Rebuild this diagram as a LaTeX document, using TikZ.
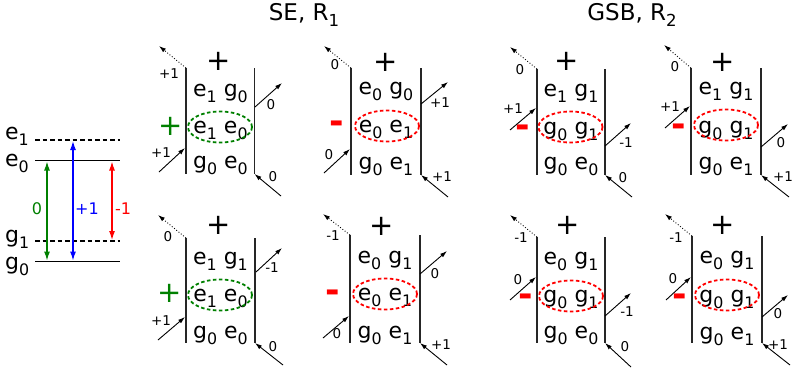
\documentclass[tikz,border=0pt]{standalone}
\usepackage{fontspec}
\usepackage{graphicx}
\setmainfont{DejaVu Sans}
\usetikzlibrary{arrows.meta,shapes.geometric}
\newcommand\sbs[1]{\raisebox{-0.28em}{\scalebox{0.72}{#1}}}
\definecolor{dgreen}{RGB}{0,128,0}
\tikzset{
  vline/.style={line width=1.2pt,black!85},
  arr/.style={line width=0.9pt,-{Latex[length=7pt,width=4.5pt]}},
  dotarr/.style={line width=0.9pt,dotted,-{Latex[length=7pt,width=4.5pt]}},
  row/.style={font=\fontsize{22}{24}\selectfont,inner sep=0pt,anchor=base},
  lab/.style={font=\fontsize{13.5}{15}\selectfont,inner sep=0pt},
  bigplus/.style={font=\fontsize{29}{30}\selectfont,inner sep=0pt},
  redminus/.style={font=\fontsize{35}{36}\selectfont\bfseries,text=red,inner sep=0pt,text height=4pt,text depth=0pt,yshift=-7pt},
  ell/.style={draw,line width=1.8pt,ellipse,minimum width=64pt,minimum height=31pt,inner sep=0pt,dash pattern=on 3.5pt off 2.5pt},
  lvl/.style={line width=1.5pt},
  lvld/.style={line width=1.5pt,dash pattern=on 4.5pt off 3pt},
  darr/.style={line width=1.2pt,{Latex[length=9pt,width=6pt]}-{Latex[length=9pt,width=6pt]}},
  lvllab/.style={font=\fontsize{22}{24}\selectfont,inner sep=0pt,anchor=base west},
  title/.style={font=\fontsize{23}{26}\selectfont,inner sep=0pt},
}
\begin{document}
\begin{tikzpicture}[x=1pt,y=-1pt]
\useasboundingbox (0,0) rectangle (793,370);
% ---------- titles
\node[title] (t1) at (304,15) {SE, R\sbs{1}};
\node[title] (t2) at (632,15) {GSB, R\sbs{2}};
% ---------- level diagram
\coordinate (e1a) at (35,140); \coordinate (e1b) at (120,140);
\coordinate (e0a) at (35,160.5); \coordinate (e0b) at (120,160.5);
\coordinate (g1a) at (35,241); \coordinate (g1b) at (120,241);
\coordinate (g0a) at (35,261.5); \coordinate (g0b) at (120,261.5);
\draw[lvld] (e1a) -- (e1b);
\draw[lvl] (e0a) -- (e0b);
\draw[lvld] (g1a) -- (g1b);
\draw[lvl] (g0a) -- (g0b);
\node[lvllab] (le1) at (5,139) {e\sbs{1}};
\node[lvllab] (le0) at (5,166) {e\sbs{0}};
\node[lvllab] (lg1) at (5,242) {g\sbs{1}};
\node[lvllab] (lg0) at (5,269) {g\sbs{0}};
\draw[darr,dgreen] (47,161.5) coordinate (ga) -- (47,260.5) coordinate (gb);
\draw[darr,blue] (73,141) coordinate (ba) -- (73,260.5) coordinate (bb);
\draw[darr,red] (112,161.5) coordinate (ra) -- (112,240) coordinate (rb);
\node[lab,font=\fontsize{16}{18}\selectfont,text=dgreen] (l0) at (37,209) {0};
\node[lab,font=\fontsize{16}{18}\selectfont,text=blue] (l1) at (87,209) {+1};
\node[lab,font=\fontsize{16}{18}\selectfont,text=red] (l2) at (123,209) {-1};

% ================= P1 (SE, top-left)
\coordinate (p1lt) at (186,68); \coordinate (p1lb) at (186,174);
\coordinate (p1rt) at (254.5,68); \coordinate (p1rb) at (254.5,174);
\draw[vline] (p1lt) -- (p1lb); \draw[vline] (p1rt) -- (p1rb);
\node[bigplus] (p1p) at (219,61) {+};
\node[row] (p1a) at (220.5,96) {e\sbs{1} g\sbs{0}};
\node[row] (p1b) at (220.5,133) {e\sbs{1} e\sbs{0}};
\node[row] (p1c) at (220.5,168) {g\sbs{0} e\sbs{0}};
\node[ell,dgreen] (p1e) at (220,127) {};
\node[bigplus,text=dgreen] (p1s) at (171,126) {+};
\draw[dotarr] (p1lt) -- (159,46) coordinate (p1d);
\coordinate (p1li) at (159,172); \coordinate (p1lh) at (185,148);
\draw[arr] (p1li) -- (p1lh);
\coordinate (p1ro) at (255,107); \coordinate (p1rh) at (282,83);
\draw[arr] (p1ro) -- (p1rh);
\coordinate (p1bi) at (281,196);
\draw[arr] (p1bi) -- (p1rb);
\node[lab] (p1l1) at (169,74) {+1};
\node[lab] (p1l2) at (161,153) {+1};
\node[lab] (p1l3) at (271,105) {0};
\node[lab] (p1l4) at (273,177) {0};

% ================= P2 (SE, top-right)
\coordinate (p2lt) at (351,68); \coordinate (p2lb) at (351,175);
\coordinate (p2rt) at (421,68); \coordinate (p2rb) at (421,175);
\draw[vline] (p2lt) -- (p2lb); \draw[vline] (p2rt) -- (p2rb);
\node[bigplus] (p2p) at (386,62) {+};
\node[row] (p2a) at (386,94) {e\sbs{0} g\sbs{0}};
\node[row] (p2b) at (386,132) {e\sbs{0} e\sbs{1}};
\node[row] (p2c) at (386,169) {g\sbs{0} e\sbs{1}};
\node[ell,red] (p2e) at (387,126) {};
\node[redminus] (p2s) at (337,124) {-};
\draw[dotarr] (p2lt) -- (324,46) coordinate (p2d);
\coordinate (p2li) at (324,173); \coordinate (p2lh) at (350,149);
\draw[arr] (p2li) -- (p2lh);
\coordinate (p2ro) at (421,104); \coordinate (p2rh) at (448,82);
\draw[arr] (p2ro) -- (p2rh);
\coordinate (p2bi) at (448,197);
\draw[arr] (p2bi) -- (p2rb);
\node[lab] (p2l1) at (335,65) {0};
\node[lab] (p2l2) at (329,155) {0};
\node[lab] (p2l3) at (440,103) {+1};
\node[lab] (p2l4) at (442,177) {+1};

% ================= P3 (GSB, top-left)
\coordinate (p3lt) at (537,69); \coordinate (p3lb) at (537,175);
\coordinate (p3rt) at (605,69); \coordinate (p3rb) at (605,175);
\draw[vline] (p3lt) -- (p3lb); \draw[vline] (p3rt) -- (p3rb);
\node[bigplus] (p3p) at (567,61) {+};
\node[row] (p3a) at (571,96) {e\sbs{1} g\sbs{1}};
\node[row] (p3b) at (571,134) {g\sbs{0} g\sbs{1}};
\node[row] (p3c) at (571,169) {g\sbs{0} e\sbs{0}};
\node[ell,red] (p3e) at (570.5,127) {};
\node[redminus] (p3s) at (523,128) {-};
\draw[dotarr] (p3lt) -- (510,47) coordinate (p3d);
\coordinate (p3li) at (510,130); \coordinate (p3lh) at (536,108);
\draw[arr] (p3li) -- (p3lh);
\coordinate (p3ro) at (605,146); \coordinate (p3rh) at (631,123);
\draw[arr] (p3ro) -- (p3rh);
\coordinate (p3bi) at (632,197);
\draw[arr] (p3bi) -- (p3rb);
\node[lab] (p3l1) at (520,70) {0};
\node[lab] (p3l2) at (513,109) {+1};
\node[lab] (p3l3) at (626,143) {-1};
\node[lab] (p3l4) at (623,178) {0};

% ================= P4 (GSB, top-right)
\coordinate (p4lt) at (691,68); \coordinate (p4lb) at (691,175);
\coordinate (p4rt) at (761,68); \coordinate (p4rb) at (761,175);
\draw[vline] (p4lt) -- (p4lb); \draw[vline] (p4rt) -- (p4rb);
\node[bigplus] (p4p) at (723,62) {+};
\node[row] (p4a) at (726,94) {e\sbs{1} g\sbs{1}};
\node[row] (p4b) at (726,133) {g\sbs{0} g\sbs{1}};
\node[row] (p4c) at (726,169) {g\sbs{0} e\sbs{1}};
\node[ell,red] (p4e) at (726,125) {};
\node[redminus] (p4s) at (679,127) {-};
\draw[dotarr] (p4lt) -- (664,45) coordinate (p4d);
\coordinate (p4li) at (665,128); \coordinate (p4lh) at (690,106);
\draw[arr] (p4li) -- (p4lh);
\coordinate (p4ro) at (761,147); \coordinate (p4rh) at (788,124);
\draw[arr] (p4ro) -- (p4rh);
\coordinate (p4bi) at (789,197);
\draw[arr] (p4bi) -- (p4rb);
\node[lab] (p4l1) at (675,67) {0};
\node[lab] (p4l2) at (670,107) {+1};
\node[lab] (p4l3) at (781,143) {0};
\node[lab] (p4l4) at (783,177) {+1};

% ================= B1 (SE, bottom-left)
\coordinate (b1lt) at (186,238); \coordinate (b1lb) at (186,343);
\coordinate (b1rt) at (255,238); \coordinate (b1rb) at (255,343);
\draw[vline] (b1lt) -- (b1lb); \draw[vline] (b1rt) -- (b1rb);
\node[bigplus] (b1p) at (219,225) {+};
\node[row] (b1a) at (220.5,264) {e\sbs{1} g\sbs{1}};
\node[row] (b1b) at (220.5,301) {e\sbs{1} e\sbs{0}};
\node[row] (b1c) at (220.5,338) {g\sbs{0} e\sbs{0}};
\node[ell,dgreen] (b1e) at (220,295) {};
\node[bigplus,text=dgreen] (b1s) at (170,293) {+};
\draw[dotarr] (b1lt) -- (158,215) coordinate (b1d);
\coordinate (b1li) at (158,340); \coordinate (b1lh) at (185,317);
\draw[arr] (b1li) -- (b1lh);
\coordinate (b1ro) at (256,272); \coordinate (b1rh) at (282,248);
\draw[arr] (b1ro) -- (b1rh);
\coordinate (b1bi) at (283,365);
\draw[arr] (b1bi) -- (b1rb);
\node[lab] (b1l1) at (168,237) {0};
\node[lab] (b1l2) at (161,321) {+1};
\node[lab] (b1l3) at (272,268) {-1};
\node[lab] (b1l4) at (273,347) {0};

% ================= B2 (SE, bottom-right)
\coordinate (b2lt) at (350,235); \coordinate (b2lb) at (350,343);
\coordinate (b2rt) at (420,235); \coordinate (b2rb) at (420,343);
\draw[vline] (b2lt) -- (b2lb); \draw[vline] (b2rt) -- (b2rb);
\node[bigplus] (b2p) at (382,226) {+};
\node[row] (b2a) at (385,263) {e\sbs{0} g\sbs{1}};
\node[row] (b2b) at (385,300) {e\sbs{0} e\sbs{1}};
\node[row] (b2c) at (385,338) {g\sbs{0} e\sbs{1}};
\node[ell,red] (b2e) at (385,294) {};
\node[redminus] (b2s) at (333,293) {-};
\draw[dotarr] (b2lt) -- (323,214) coordinate (b2d);
\coordinate (b2li) at (323,338); \coordinate (b2lh) at (349,316);
\draw[arr] (b2li) -- (b2lh);
\coordinate (b2ro) at (420,274); \coordinate (b2rh) at (447,251);
\draw[arr] (b2ro) -- (b2rh);
\coordinate (b2bi) at (447,365);
\draw[arr] (b2bi) -- (b2rb);
\node[lab] (b2l1) at (333,236) {-1};
\node[lab] (b2l2) at (337,334) {0};
\node[lab] (b2l3) at (435,274) {0};
\node[lab] (b2l4) at (441,345) {+1};

% ================= B3 (GSB, bottom-left)
\coordinate (b3lt) at (537,237); \coordinate (b3lb) at (537,343);
\coordinate (b3rt) at (605,237); \coordinate (b3rb) at (605,343);
\draw[vline] (b3lt) -- (b3lb); \draw[vline] (b3rt) -- (b3rb);
\node[bigplus] (b3p) at (568,225) {+};
\node[row] (b3a) at (571,264) {e\sbs{0} g\sbs{1}};
\node[row] (b3b) at (571,302) {g\sbs{0} g\sbs{1}};
\node[row] (b3c) at (571,338) {g\sbs{0} e\sbs{0}};
\node[ell,red] (b3e) at (571,296) {};
\node[redminus] (b3s) at (526,297) {-};
\draw[dotarr] (b3lt) -- (510,215) coordinate (b3d);
\coordinate (b3li) at (510,300); \coordinate (b3lh) at (536,277);
\draw[arr] (b3li) -- (b3lh);
\coordinate (b3ro) at (605,316); \coordinate (b3rh) at (631,293);
\draw[arr] (b3ro) -- (b3rh);
\coordinate (b3bi) at (631,367);
\draw[arr] (b3bi) -- (b3rb);
\node[lab] (b3l1) at (521,238) {-1};
\node[lab] (b3l2) at (518,280) {0};
\node[lab] (b3l3) at (627,312) {-1};
\node[lab] (b3l4) at (625,347) {0};

% ================= B4 (GSB, bottom-right)
\coordinate (b4lt) at (692,236); \coordinate (b4lb) at (692,343);
\coordinate (b4rt) at (762,236); \coordinate (b4rb) at (762,343);
\draw[vline] (b4lt) -- (b4lb); \draw[vline] (b4rt) -- (b4rb);
\node[bigplus] (b4p) at (723,225) {+};
\node[row] (b4a) at (727,263) {e\sbs{0} g\sbs{1}};
\node[row] (b4b) at (727,302) {g\sbs{0} g\sbs{1}};
\node[row] (b4c) at (727,339) {g\sbs{0} e\sbs{1}};
\node[ell,red] (b4e) at (727,295) {};
\node[redminus] (b4s) at (680,297) {-};
\draw[dotarr] (b4lt) -- (665,214) coordinate (b4d);
\coordinate (b4li) at (666,300); \coordinate (b4lh) at (691,277);
\draw[arr] (b4li) -- (b4lh);
\coordinate (b4ro) at (762,317); \coordinate (b4rh) at (788,295);
\draw[arr] (b4ro) -- (b4rh);
\coordinate (b4bi) at (790,365);
\draw[arr] (b4bi) -- (b4rb);
\node[lab] (b4l1) at (676,238) {-1};
\node[lab] (b4l2) at (673,279) {0};
\node[lab] (b4l3) at (778,314) {0};
\node[lab] (b4l4) at (778,345) {+1};
\end{tikzpicture}
\end{document}
